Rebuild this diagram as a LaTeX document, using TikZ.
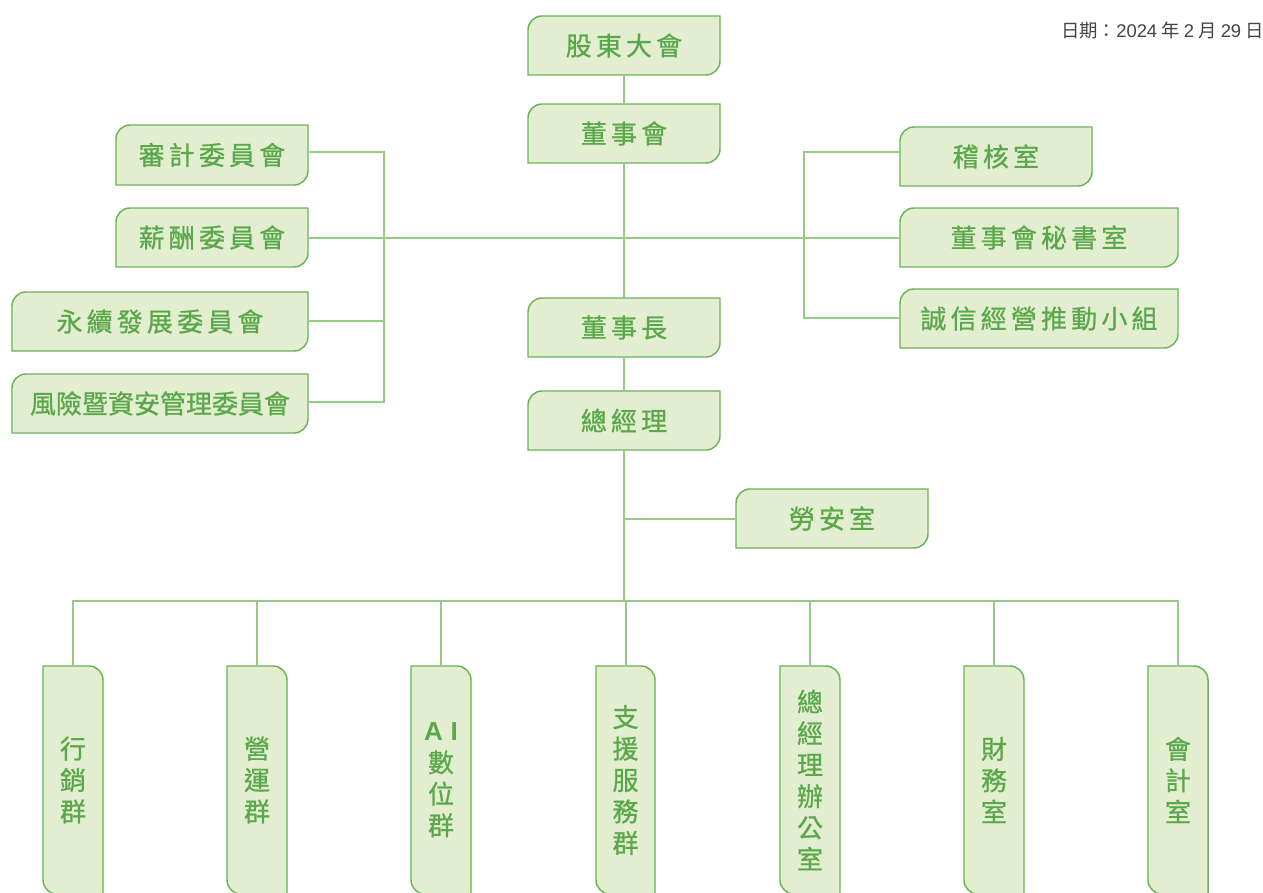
\documentclass[tikz,border=0pt]{standalone}
\usepackage{fontspec}
\newfontfamily\cjk{Noto Sans CJK TC}
\newfontfamily\cjkbox[FakeBold=0.8]{Noto Sans CJK TC}
\newfontfamily\cjksp[LetterSpace=16,FakeBold=0.8]{Noto Sans CJK TC}
\newfontfamily\latinsans{Liberation Sans}
\definecolor{boxfill}{HTML}{E2EECF}
\definecolor{boxline}{HTML}{6CB35B}
\definecolor{conn}{HTML}{96CA85}
\definecolor{txt}{HTML}{5AA84B}
\definecolor{datecol}{HTML}{444444}
\tikzset{
  boxshape/.style={fill=boxfill, draw=boxline, line width=1.1pt},
  boxtext/.style={inner sep=0pt, outer sep=0pt, text=txt, align=center, font=\cjksp\fontsize{19.5}{23.6}\selectfont},
  vtext/.style={inner sep=0pt, outer sep=0pt, text=txt, align=center, font=\cjkbox\fontsize{19.5}{23.6}\selectfont},
  connector/.style={draw=conn, line width=1.5pt},
}
% horizontal box: rounded top-left and bottom-right
\newcommand\gboxh[6]{%
  \path[boxshape] (#2,#5) -- (#2,#3+14) .. controls (#2,#3+6.3) and (#2+6.3,#3) .. (#2+14,#3)
    -- (#4,#3) -- (#4,#5-14) .. controls (#4,#5-6.3) and (#4-6.3,#5) .. (#4-14,#5) -- cycle;
  \node[boxtext, minimum width={(#4-#2)*0.75pt}, minimum height={(#5-#3)*0.75pt}] (#1) at ({(#2+#4)/2},{(#3+#5)/2}) {#6};}
% vertical box: rounded top-right and bottom-left
\newcommand\gboxv[6]{%
  \path[boxshape] (#2,#3) -- (#4-14,#3) .. controls (#4-6.3,#3) and (#4,#3+6.3) .. (#4,#3+14)
    -- (#4,#5) -- (#2+14,#5) .. controls (#2+6.3,#5) and (#2,#5-6.3) .. (#2,#5-14) -- cycle;
  \node[vtext, minimum width={(#4-#2)*0.75pt}, minimum height={(#5-#3)*0.75pt}] (#1) at ({(#2+#4)/2},{(#3+#5)/2}) {#6};}
\begin{document}
\begin{tikzpicture}[x=0.75pt,y=-0.75pt]
\clip (0,0) rectangle (1263,892);
\fill[white] (0,0) rectangle (1263,892);
\coordinate (LT) at (384,152);
\coordinate (LB) at (384,402);
\coordinate (RT) at (804,152);
\coordinate (RB) at (804,318);
\coordinate (B) at (624,601);
% boxes
\gboxh{gudong}{528}{16}{720}{75}{股東大會}
\gboxh{dongshihui}{528}{104}{720}{163}{董事會}
\gboxh{shenji}{116}{125}{308}{185}{審計委員會}
\gboxh{xinchou}{116}{208}{308}{267}{薪酬委員會}
\gboxh{yongxu}{12}{292}{308}{351}{永續發展委員會}
\gboxh{fengxian}{12}{374}{308}{433}{{\cjkbox 風險暨資安管理委員會}}
\gboxh{jihe}{900}{127}{1092}{186}{稽核室}
\gboxh{mishu}{900}{208}{1178}{267}{董事會秘書室}
\gboxh{chengxin}{900}{289}{1178}{348}{誠信經營推動小組}
\gboxh{dongshizhang}{528}{298}{720}{357}{董事長}
\gboxh{zongjingli}{528}{391}{720}{450}{總經理}
\gboxh{laoan}{736}{489}{928}{548}{勞安室}
\gboxv{g1}{43}{666}{103}{894}{行\\銷\\群}
\gboxv{g2}{227}{666}{287}{894}{營\\運\\群}
\gboxv{g3}{411}{666}{471}{894}{{\latinsans\bfseries A\hspace{0.3em}I}\\數\\位\\群}
\gboxv{g4}{596}{666}{655}{894}{支\\援\\服\\務\\群}
\gboxv{g5}{780}{666}{840}{894}{總\\經\\理\\辦\\公\\室}
\gboxv{g6}{964}{666}{1024}{894}{財\\務\\室}
\gboxv{g7}{1148}{666}{1208}{894}{會\\計\\室}
% connectors
\draw[connector] (gudong.south) -- (dongshihui.north);
\draw[connector] (dongshihui.south) -- (dongshizhang.north);
\draw[connector] (xinchou.east) -- (mishu.west);
\draw[connector] (shenji.east |- LT) -- (LT) -- (LB) -- (fengxian.east |- LB);
\draw[connector] (yongxu.east |- 0,321) -- (LT |- 0,321);
\draw[connector] (jihe.west |- RT) -- (RT) -- (RB) -- (chengxin.west |- RB);
\draw[connector] (dongshizhang.south) -- (zongjingli.north);
\draw[connector] (zongjingli.south) -- (B);
\draw[connector] (laoan.west) -- (laoan.west -| B);
\draw[connector] (g1.north) -- (g1.north |- B) -- (g7.north |- B) -- (g7.north);
\draw[connector] (B) -- (g4.north |- B) -- (g4.north);
\foreach \n in {g2,g3,g5,g6} \draw[connector] (\n.north) -- (\n.north |- B);
% date
\node[anchor=east, inner sep=0pt, text=datecol, font=\cjk\fontsize{13.8}{16}\selectfont] (date) at (1264,31) {日期：{\latinsans 2024} 年 {\latinsans 2} 月 {\latinsans 29} 日};
\end{tikzpicture}
\end{document}
